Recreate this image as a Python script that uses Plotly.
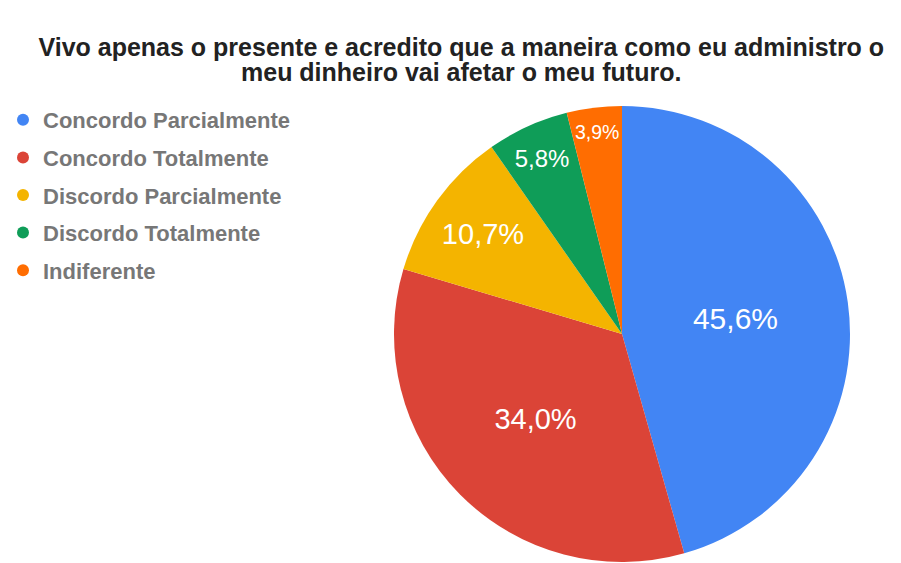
import plotly.graph_objects as go

# Survey answers and their share of responses (%)
categories = ["Concordo Parcialmente", "Concordo Totalmente", "Discordo Parcialmente",
              "Discordo Totalmente", "Indiferente"]
shares = [45.6, 34.0, 10.7, 5.8, 3.9]
share_labels = ["45,6%", "34,0%", "10,7%", "5,8%", "3,9%"]
colors = ["#4285F4", "#DB4437", "#F4B400", "#0F9D58", "#FF6D01"]
label_sizes = [30, 29, 29, 24, 22]

title_line1 = "Vivo apenas o presente e acredito que a maneira como eu administro o"
title_line2 = "meu dinheiro vai afetar o meu futuro."

W, H = 901, 563
cx, cy, r = 622, 334, 228
FONT = "Liberation Sans, Arial, sans-serif"
title_font = dict(family=FONT, size=25, color="#222222", weight="bold")

fig = go.Figure()

fig.add_trace(go.Pie(
    labels=categories,
    values=shares,
    text=share_labels,
    texttemplate="%{text}",
    textposition="inside",
    insidetextorientation="horizontal",
    insidetextfont=dict(family=FONT, size=label_sizes, color="white"),
    marker=dict(colors=colors, line=dict(width=0)),
    sort=False,
    direction="clockwise",
    rotation=0,
    showlegend=False,
    hoverinfo="label+text",
    domain=dict(x=[(cx - r) / W, (cx + r) / W], y=[(H - cy - r) / H, (H - cy + r) / H]),
))

# Legend entries with round swatches
for i, (name, col) in enumerate(zip(categories, colors)):
    fig.add_trace(go.Scatter(
        x=[None], y=[None], mode="markers", name=name,
        marker=dict(symbol="circle", size=12, color=col),
        legendgroup=f"g{i}", showlegend=True, hoverinfo="skip",
    ))

fig.update_layout(
    width=W, height=H,
    margin=dict(l=0, r=0, t=0, b=0),
    paper_bgcolor="white", plot_bgcolor="white",
    title=dict(text=title_line1, x=0.512, xanchor="center", y=1 - 47 / H, yanchor="middle",
               font=title_font),
    annotations=[dict(text=title_line2, xref="paper", yref="paper", x=0.512, y=1 - 72 / H,
                      xanchor="center", yanchor="middle", showarrow=False, font=title_font)],
    xaxis=dict(visible=False), yaxis=dict(visible=False),
    legend=dict(x=3 / W, xanchor="left", y=1 - 99 / H, yanchor="top",
                font=dict(family=FONT, size=22, color="#777777", weight="bold"),
                traceorder="grouped", tracegroupgap=6, itemwidth=30,
                bgcolor="rgba(0,0,0,0)"),
)

fig.write_html("out.html")
